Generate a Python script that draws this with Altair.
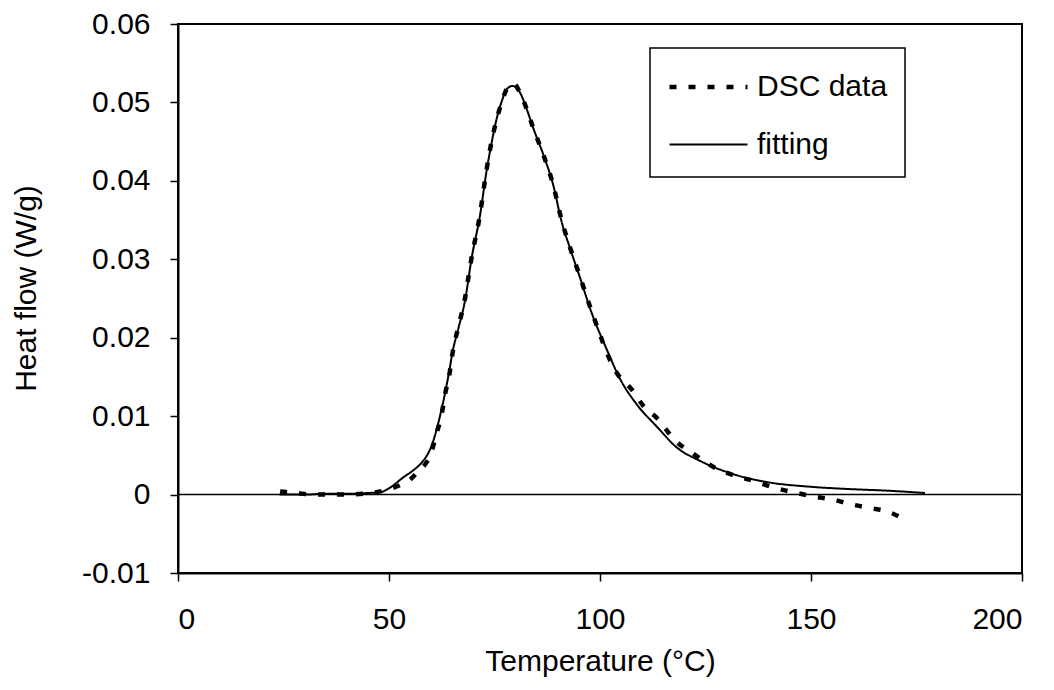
import altair as alt
import pandas as pd

# DSC data (temperature °C, heat flow W/g)
dsc_temp = [24.2, 28, 32, 36, 40, 44, 47, 50, 53, 55, 57, 58.5, 60, 61.2, 62.4,
            63.3, 64.3, 65.2, 66.5, 68, 69.5, 71.5, 73, 74.3, 75.5, 76.7, 78,
            79.5, 81, 82.6, 84.2, 86.6, 88.9, 90.9, 92.9, 95.3, 98, 100, 101.6,
            104, 107.5, 110.3, 113.6, 117.8, 122.1, 127.3, 132, 136.7, 141.1,
            145.8, 150.1, 155.7, 159.2, 163.9, 168.3, 173.1]
dsc_flow = [0.0004, 0.0002, 0.0000, 0.0000, 0.0000, 0.0001, 0.0003, 0.0007,
            0.0013, 0.0019, 0.0030, 0.0038, 0.0053, 0.0077, 0.0100, 0.0128,
            0.0153, 0.0185, 0.0215, 0.0250, 0.0300, 0.0355, 0.0410, 0.0450,
            0.0478, 0.0500, 0.0518, 0.0524, 0.0513, 0.0492, 0.0467, 0.0433,
            0.0395, 0.0350, 0.0315, 0.0277, 0.0234, 0.0204, 0.0181, 0.0155,
            0.0134, 0.0113, 0.0097, 0.0069, 0.0052, 0.0034, 0.0024, 0.0017,
            0.0009, 0.0003, -0.0002, -0.0007, -0.0012, -0.0017, -0.0022, -0.0035]

# Fitting curve
fit_temp = [24, 30, 35, 40, 45, 48, 50, 53.4, 56, 58.1, 59.5, 60.7, 61.9, 63,
            64.2, 65.1, 66.4, 68, 69.6, 71.6, 73.1, 74.3, 75.5, 76.7, 77.9, 79.3,
            81, 82.6, 84.2, 86.6, 88.9, 90.9, 92.9, 95.3, 98, 101.6, 104.7, 108.7,
            113.4, 118.2, 123.7, 131.6, 139.5, 149.8, 159.2, 168, 177]
fit_flow = [0.0000, 0.0000, 0.0001, 0.0001, 0.0002, 0.0003, 0.0008, 0.0022,
            0.0032, 0.0043, 0.0055, 0.0072, 0.0096, 0.0122, 0.0155, 0.0183,
            0.0211, 0.0247, 0.0302, 0.0357, 0.0412, 0.0448, 0.0479, 0.0501,
            0.0517, 0.0521, 0.0513, 0.0492, 0.0467, 0.0433, 0.0395, 0.0348,
            0.0314, 0.0276, 0.0232, 0.0185, 0.0148, 0.0115, 0.0087, 0.0060,
            0.0043, 0.0026, 0.0016, 0.0010, 0.0007, 0.0005, 0.0002]

series_names = ["DSC data", "fitting"]
x_ticks = [0, 50, 100, 150, 200]
y_ticks = [-0.01, 0, 0.01, 0.02, 0.03, 0.04, 0.05, 0.06]

df = pd.concat([
    pd.DataFrame({"temp": dsc_temp, "flow": dsc_flow, "series": series_names[0]}),
    pd.DataFrame({"temp": fit_temp, "flow": fit_flow, "series": series_names[1]}),
])

FONT = "Liberation Sans"

x = alt.X("temp:Q",
          scale=alt.Scale(domain=[0, 200], nice=False),
          axis=alt.Axis(values=x_ticks, title="Temperature (°C)", format="d",
                        labelBaseline="alphabetic", labelPadding=47,
                        titleBaseline="alphabetic", titleY=97))
y = alt.Y("flow:Q",
          scale=alt.Scale(domain=[-0.01, 0.06], nice=False, zero=False),
          axis=alt.Axis(values=y_ticks, title="Heat flow (W/g)",
                        labelExpr="datum.value == 0 ? '0' : (datum.value < 0 ? '-' : '') + format(abs(datum.value), '.2f')",
                        labelPadding=20,
                        titleAngle=-90, titleBaseline="alphabetic",
                        titleX=-143, titleY=264, titleAlign="center"))

legend = alt.Legend(orient="none", legendX=472, legendY=24,
                    title=None, symbolType="M-1,0H3",
                    symbolSize=1521, labelOffset=46,
                    padding=17, rowPadding=22)

lines = alt.Chart(df).mark_line(color="black", interpolate="monotone").encode(
    x=x,
    y=y,
    strokeDash=alt.StrokeDash("series:N",
                              scale=alt.Scale(domain=series_names, range=[[7, 12], [1, 0]]),
                              legend=legend),
    strokeWidth=alt.StrokeWidth("series:N",
                                scale=alt.Scale(domain=series_names, range=[4.5, 2]),
                                legend=legend),
)

zero = alt.Chart(pd.DataFrame({"z": [0]})).mark_rule(color="black", strokeWidth=1.5).encode(
    y=alt.Y("z:Q", scale=alt.Scale(domain=[-0.01, 0.06], nice=False, zero=False))
)

chart = alt.layer(zero, lines).properties(
    width=844, height=549,
    autosize=alt.AutoSizeParams(type="none"),
    padding={"left": 170, "top": 16, "right": 20, "bottom": 104},
    background="white",
).configure_view(
    stroke="black", strokeWidth=2
).configure_axis(
    grid=False,
    domainColor="black", domainWidth=2,
    tickColor="black", tickWidth=1.5, tickSize=8,
    labelFont=FONT, labelFontSize=30, labelColor="black",
    titleFont=FONT, titleFontSize=30, titleFontWeight="normal", titleColor="black",
).configure_legend(
    strokeColor="black", strokeWidth=1.5, fillColor="white", cornerRadius=0,
    labelFont=FONT, labelFontSize=30, labelColor="black",
    symbolStrokeColor="black",
)

chart.save("out.html", embed_options={"renderer": "svg", "actions": False})
